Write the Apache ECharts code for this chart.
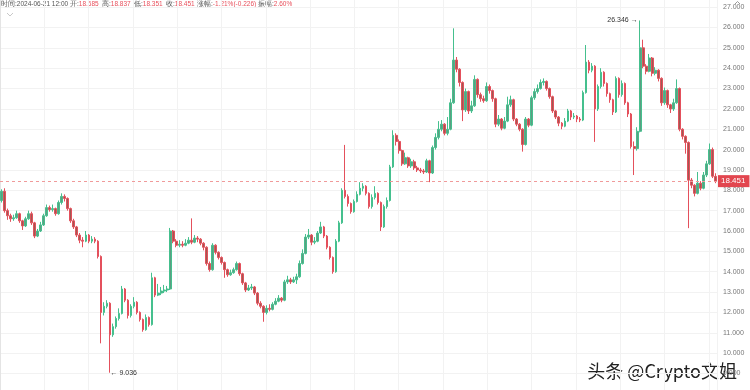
<!DOCTYPE html>
<html><head><meta charset="utf-8">
<script src="https://cdn.jsdelivr.net/npm/echarts@6/dist/echarts.min.js"></script>
<style>html,body{margin:0;padding:0;background:#fff;overflow:hidden}#c{width:750px;height:390px}</style>
</head><body><div id="c"></div>
<script>
// ---- data (12h candles ending 2024-06-21 12:00) ----
const opens=[17.50,17.95,17.00,16.75,16.60,16.65,16.85,16.50,16.25,16.60,
16.85,16.40,15.75,16.00,16.30,16.75,17.15,17.05,17.10,16.85,
17.40,17.70,17.60,17.10,16.50,16.20,15.80,15.55,15.50,15.80,
15.50,15.60,15.50,14.75,12.00,12.30,12.45,10.90,11.30,11.70,
11.95,13.15,12.60,11.85,12.30,12.50,12.00,11.65,11.15,11.75,
11.40,13.70,12.85,12.95,13.05,13.10,13.15,16.00,15.50,15.30,
15.35,15.30,15.40,15.55,15.45,15.65,15.60,15.40,15.20,14.40,
14.10,15.30,14.95,14.70,14.45,14.10,13.85,13.95,14.10,14.40,
13.90,13.45,13.10,13.20,13.25,12.95,12.45,12.30,12.00,12.20,
12.15,12.40,12.55,12.70,12.60,13.50,13.60,13.50,13.60,13.75,
14.40,14.90,15.70,15.80,15.45,15.50,15.90,16.20,15.75,15.20,
14.70,14.00,15.50,16.40,18.00,17.70,17.35,16.95,17.45,17.80,
18.10,18.20,17.85,17.20,17.65,17.85,17.40,16.20,17.20,17.50,
19.15,20.70,20.40,19.95,19.30,19.60,19.20,19.40,19.10,19.00,
18.95,18.90,19.45,18.85,20.10,20.60,21.00,21.25,20.80,21.00,
22.30,24.40,23.95,23.30,21.95,22.85,21.90,22.15,23.45,22.70,
22.50,22.40,23.10,22.90,22.50,21.25,21.50,21.05,21.40,22.20,
22.45,21.50,21.25,21.00,20.25,21.50,21.20,22.55,22.85,23.00,
23.30,23.35,23.00,22.60,21.90,21.60,21.30,21.15,21.40,21.90,
21.60,21.65,21.50,21.45,22.80,24.30,23.90,24.10,22.00,23.10,
23.80,23.25,22.75,22.45,21.85,23.50,22.70,23.25,22.30,21.75,
20.15,20.05,20.90,25.00,24.10,23.85,24.50,23.75,23.90,23.50,
22.30,22.90,22.20,22.00,22.30,23.00,21.00,20.65,20.35,18.50,
18.25,17.85,18.35,18.10,18.75,19.30,20.00,18.685];
const closes=[17.95,17.00,16.75,16.60,16.65,16.85,16.50,16.25,16.60,16.85,
16.40,15.75,16.00,16.30,16.75,17.15,17.05,17.10,16.85,17.40,
17.70,17.60,17.10,16.50,16.20,15.80,15.55,15.50,15.80,15.50,
15.60,15.50,14.75,12.00,12.30,12.45,10.90,11.30,11.70,11.95,
13.15,12.60,11.85,12.30,12.50,12.00,11.65,11.15,11.75,11.40,
13.70,12.85,12.95,13.05,13.10,13.15,16.00,15.50,15.30,15.35,
15.30,15.40,15.55,15.45,15.65,15.60,15.40,15.20,14.40,14.10,
15.30,14.95,14.70,14.45,14.10,13.85,13.95,14.10,14.40,13.90,
13.45,13.10,13.20,13.25,12.95,12.45,12.30,12.00,12.20,12.15,
12.40,12.55,12.70,12.60,13.50,13.60,13.50,13.60,13.75,14.40,
14.90,15.70,15.80,15.45,15.50,15.90,16.20,15.75,15.20,14.70,
14.00,15.50,16.40,18.00,17.70,17.35,16.95,17.45,17.80,18.10,
18.20,17.85,17.20,17.65,17.85,17.40,16.20,17.20,17.50,19.15,
20.70,20.40,19.95,19.30,19.60,19.20,19.40,19.10,19.00,18.95,
18.90,19.45,18.85,20.10,20.60,21.00,21.25,20.80,21.00,22.30,
24.40,23.95,23.30,21.95,22.85,21.90,22.15,23.45,22.70,22.50,
22.40,23.10,22.90,22.50,21.25,21.50,21.05,21.40,22.20,22.45,
21.50,21.25,21.00,20.25,21.50,21.20,22.55,22.85,23.00,23.30,
23.35,23.00,22.60,21.90,21.60,21.30,21.15,21.40,21.90,21.60,
21.65,21.50,21.45,22.80,24.30,23.90,24.10,22.00,23.10,23.80,
23.25,22.75,22.45,21.85,23.50,22.70,23.25,22.30,21.75,20.15,
20.05,20.90,25.00,24.10,23.85,24.50,23.75,23.90,23.50,22.30,
22.90,22.20,22.00,22.30,23.00,21.00,20.65,20.35,18.50,18.25,
17.85,18.35,18.10,18.75,19.30,20.00,18.69,18.451];
const highs=[18.05,18.10,17.10,16.85,16.80,17.00,16.90,16.55,16.70,17.00,
16.95,16.45,16.10,16.45,16.85,17.30,17.25,17.30,17.15,17.50,
17.85,17.80,17.65,17.15,16.60,16.25,15.90,15.70,16.00,15.85,
15.75,15.70,15.55,14.80,12.50,12.60,12.50,11.45,11.80,12.20,
13.30,13.20,12.65,12.40,12.75,12.55,12.05,11.70,11.90,11.80,
13.95,13.75,13.40,13.25,13.35,13.30,16.15,16.05,15.60,15.55,
15.50,15.60,15.70,16.62,15.80,15.75,15.65,15.45,15.25,14.50,
15.40,15.35,15.00,14.75,14.50,14.15,14.10,14.20,14.50,14.45,
13.95,13.50,13.35,13.40,13.30,13.00,12.55,12.35,12.35,12.40,
12.50,12.70,12.85,12.75,13.60,13.80,13.70,13.75,13.90,14.55,
15.10,15.85,16.10,15.85,15.70,16.00,16.45,16.25,15.80,15.25,
14.75,15.60,16.50,18.10,20.23,17.80,17.40,17.55,17.95,18.40,
18.35,18.25,17.90,17.80,18.20,17.90,17.45,17.30,17.65,19.25,
20.95,20.80,20.50,20.00,19.85,19.65,19.55,19.50,19.20,19.10,
19.05,19.55,19.50,20.20,20.80,21.40,21.45,21.30,21.60,22.50,
25.96,24.55,24.00,23.35,23.00,22.90,22.40,23.65,23.50,22.80,
22.65,23.30,23.20,22.95,22.55,21.70,21.55,21.60,22.60,22.65,
22.50,21.55,21.30,21.05,21.60,21.55,22.65,23.00,23.20,23.45,
23.50,23.40,23.05,22.65,21.95,21.65,21.35,21.55,22.00,21.95,
21.80,21.70,21.60,22.90,25.14,24.40,24.25,24.15,23.20,24.00,
23.85,23.30,22.80,22.50,23.60,23.55,23.40,23.30,22.35,21.80,
20.40,21.10,26.346,25.40,24.20,24.70,24.55,24.05,23.95,23.55,
23.05,22.95,22.25,22.50,23.45,23.05,21.05,20.70,20.40,18.60,
18.30,18.90,18.45,18.90,19.45,20.30,20.10,18.837];
const lows=[17.40,16.90,16.55,16.45,16.50,16.60,16.40,16.05,16.20,16.55,
16.30,15.65,15.70,15.95,16.25,16.70,16.95,16.95,16.75,16.80,
17.30,17.45,17.00,16.40,16.10,15.70,15.40,15.20,15.45,15.40,
15.40,15.40,14.65,10.48,11.85,12.20,9.036,10.80,11.20,11.60,
11.90,12.50,11.70,11.75,12.20,11.90,11.55,11.05,11.10,11.30,
11.35,12.75,12.80,12.85,12.95,13.00,13.10,15.40,15.20,15.20,
15.20,15.25,15.35,15.35,15.40,15.45,15.30,15.05,14.30,14.00,
14.05,14.85,14.60,14.35,13.70,13.75,13.80,13.90,14.05,13.80,
13.35,13.00,13.05,13.10,12.85,12.35,12.20,11.54,11.90,12.05,
12.10,12.35,12.50,12.50,12.55,13.40,13.40,13.45,13.40,13.70,
14.35,14.85,15.60,15.30,15.35,15.45,15.85,15.65,15.10,14.60,
13.90,13.95,15.45,16.35,17.60,17.20,16.85,16.90,17.40,17.75,
17.95,17.75,17.10,17.10,17.55,17.30,16.00,16.15,17.10,17.45,
19.10,20.20,19.80,19.20,19.25,19.10,19.10,19.00,18.90,18.85,
18.80,18.85,18.40,18.80,20.00,20.50,20.90,20.70,20.70,20.95,
22.25,23.80,23.10,21.40,21.85,21.75,21.80,22.10,22.55,22.35,
22.30,22.35,22.75,22.35,21.10,21.15,20.95,21.00,21.35,22.10,
21.40,21.15,20.90,19.90,20.20,21.10,21.15,22.45,22.75,22.95,
23.15,22.90,22.50,21.80,21.50,21.15,21.00,21.10,21.35,21.45,
21.50,21.35,21.35,21.40,22.75,23.75,23.80,20.38,21.90,23.00,
23.10,22.60,22.30,21.70,21.80,22.55,22.60,22.20,21.60,20.05,
18.75,19.95,20.85,24.00,23.70,23.80,23.60,23.65,23.35,22.15,
22.20,22.05,21.80,21.90,22.25,20.90,20.50,19.80,16.14,18.10,
17.70,17.80,18.00,18.05,18.65,19.25,18.60,18.351];
const lastPrice = 18.451;
const maxIdx = 212, maxPrice = 26.346;
const minIdx = 36, minPrice = 9.036;
const headerLabels = ['时间:','开:','高:','低:','收:','涨幅:','振幅:'];
const headerValues = ['2024-06-21 12:00','18.685','18.837','18.351','18.451','-1.21%(-0.226)','2.60%'];

// categories: 12h steps ending at 2024-06-21 12:00
const times = [];
const endT = Date.UTC(2024,5,21,12);
for (let i = 0; i < closes.length; i++) {
  const d = new Date(endT - (closes.length - 1 - i) * 12 * 3600e3);
  times.push(d.toISOString().slice(0,16).replace('T',' '));
}
const kdata = closes.map((c,i)=>[opens[i], c, lows[i], highs[i]]);

const chart = echarts.init(document.getElementById('c'), null, {renderer:'canvas'});
const smallFont = 'Liberation Sans, Arial, sans-serif';
const hdrX = [1,70,102,134,166,197,258];
const graphics = [];
headerLabels.forEach((l,i)=>{
  graphics.push({type:'text', left:hdrX[i], top:1, style:{
    text:'{a|'+l+'}{b|'+headerValues[i]+'}',
    rich:{a:{fill:'#555', font:'6.5px '+smallFont}, b:{fill: i===0?'#555':'#e8505c', font:'6.5px '+smallFont}}}});
});
graphics.push({type:'polyline', shape:{points:[[7,13],[10,16],[13,13]]}, style:{stroke:'#c8c8c8', lineWidth:1, fill:null}});
graphics.push({type:'polyline', shape:{points:[[735,4],[737.5,1.5],[740,4]]}, style:{stroke:'#999', lineWidth:1, fill:null}});
graphics.push({type:'text', right:12, bottom:9, style:{text:'头条 @Crypto文姐', fill:'#222', font:'18px "Noto Sans CJK SC", sans-serif', stroke:'#fff', lineWidth:2}});

chart.setOption({
  animation:false,
  backgroundColor:'#fff',
  grid:{left:0, right:33, top:-13.2, bottom:-3.8, containLabel:false, outerBoundsMode:'none'},
  xAxis:[
    {type:'category', data:times, boundaryGap:true, axisLine:{show:false}, axisTick:{show:false}, axisLabel:{show:false}, splitLine:{show:false}},
    {type:'value', min:0, max:717, interval:44.3, position:'bottom', axisLine:{show:false}, axisTick:{show:false}, axisLabel:{show:false}, splitLine:{show:true, lineStyle:{color:'#f2f2f2', width:1}}}
  ],
  yAxis:{type:'value', position:'right', min:8, max:28, interval:1,
    axisLine:{show:true, lineStyle:{color:'#e4e4e4'}}, axisTick:{show:false},
    axisLabel:{fontSize:7, color:'#777', margin:6, fontFamily:smallFont, formatter:v=>v.toFixed(3)},
    splitLine:{show:true, lineStyle:{color:'#f2f2f2', width:1}}},
  graphic:graphics,
  series:[{
    type:'candlestick', data:kdata, barWidth:2.2,
    itemStyle:{color:'#5f9c82', color0:'#9e5a52', borderColor:'#45c08e', borderColor0:'#e4505c', borderWidth:1},
    markLine:{silent:true, symbol:['none','none'], data:[{yAxis:lastPrice}],
      lineStyle:{color:'#f09a9a', type:[3,3], width:1},
      label:{show:true, position:'end', distance:1, formatter:lastPrice.toFixed(3), backgroundColor:'#e2464f', color:'#fff', fontSize:8, fontFamily:smallFont, padding:[2,4,2,3]}},
    markPoint:{silent:true, symbol:'circle', symbolSize:1, itemStyle:{color:'rgba(0,0,0,0)'},
      data:[
        {coord:[times[maxIdx], maxPrice], label:{show:true, position:'left', distance:2, formatter:maxPrice.toFixed(3)+' →', color:'#333', fontSize:7, fontFamily:smallFont}},
        {coord:[times[minIdx], minPrice], label:{show:true, position:'right', distance:0, formatter:'← '+minPrice.toFixed(3), color:'#333', fontSize:7, fontFamily:smallFont}}
      ]}
  }]
});
</script></body></html>
